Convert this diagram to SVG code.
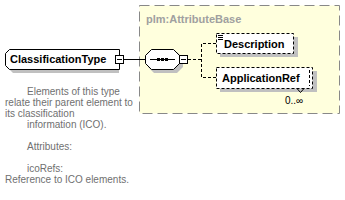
<svg xmlns="http://www.w3.org/2000/svg" width="345" height="200" viewBox="0 0 345 200">
<style>
.lbl{font-family:"Liberation Sans",Arial,sans-serif;font-size:11px;font-weight:bold;fill:#000}
.doc{font-family:"Liberation Sans",Arial,sans-serif;font-size:10px;fill:#707070}
.sh{fill:#c0c0c0;stroke:none}
.box{fill:#fff;stroke:#000;stroke-width:1}
.dbox{fill:#fff;stroke:#000;stroke-width:1;stroke-dasharray:3,2}
.conn{fill:none;stroke:#000;stroke-width:1}
.dconn{fill:none;stroke:#000;stroke-width:1;stroke-dasharray:3,2}
</style>
<rect width="345" height="200" fill="#fff"/>
<g id="group-AttributeBase">
<rect x="139.5" y="5.5" width="200" height="108" fill="#ffffdd" stroke="#888" stroke-dasharray="10,5"/>
<text x="146" y="23" class="lbl" style="fill:#a0a0a0">plm:AttributeBase</text>
</g>
<g id="connectors">
<line class="conn" x1="124" y1="59.5" x2="145" y2="59.5"/>
<polyline class="dconn" points="188,59.5 201.5,59.5"/>
<polyline class="dconn" points="216,43.5 201.5,43.5 201.5,77.5 216,77.5"/>
</g>
<g id="node-ClassificationType">
<path class="sh" d="M13,53 H119 V73 H13 L9,69 V57 Z"/>
<path class="box" d="M9.5,49.5 H119.5 V69.5 H9.5 L5.5,65.5 V53.5 Z"/>
<text x="10" y="63" class="lbl">ClassificationType</text>
<rect class="box" x="115.5" y="55.5" width="8" height="8"/>
<line class="conn" x1="117" y1="59.5" x2="122" y2="59.5"/>
</g>
<g id="node-sequence">
<path class="sh" d="M154,52 H177 L183,58 V67 L177,73 H154 L148,67 V58 Z"/>
<path class="box" d="M151.5,49.5 H173.5 L179.5,55.5 V63.5 L173.5,69.5 H151.5 L145.5,63.5 V55.5 Z"/>
<line class="conn" x1="150" y1="59.5" x2="175" y2="59.5"/>
<rect x="157" y="58" width="3" height="3" fill="#000"/>
<rect x="161" y="58" width="3" height="3" fill="#000"/>
<rect x="165" y="58" width="3" height="3" fill="#000"/>
<rect class="box" x="179.5" y="55.5" width="8" height="8"/>
<line class="conn" x1="181" y1="59.5" x2="186" y2="59.5"/>
</g>
<g id="node-Description">
<rect class="sh" x="220" y="37" width="78" height="20"/>
<rect class="dbox" x="216.5" y="33.5" width="77" height="20"/>
<line class="conn" x1="218" y1="35.5" x2="223" y2="35.5"/>
<line class="conn" x1="218" y1="37.5" x2="223" y2="37.5"/>
<line class="conn" x1="218" y1="39.5" x2="223" y2="39.5"/>
<text x="224" y="48" class="lbl">Description</text>
</g>
<g id="node-ApplicationRef">
<rect class="sh" x="220" y="71" width="97" height="21"/>
<rect class="dbox" x="216.5" y="67.5" width="96" height="21"/>
<line class="dconn" x1="309.5" y1="70" x2="309.5" y2="86"/>
<polyline class="conn" points="297,88.5 300.5,92.5 304,88.5"/>
<text x="222" y="82" class="lbl">ApplicationRef</text>
<text x="285" y="104" font-family="Liberation Sans,Arial,sans-serif" font-size="10" fill="#000">0..∞</text>
</g>
<g id="annotation">
<text class="doc" x="27" y="95">Elements of this type</text>
<text class="doc" x="5" y="106">relate their parent element to</text>
<text class="doc" x="5" y="117">its classification</text>
<text class="doc" x="27" y="128">information (ICO).</text>
<text class="doc" x="27" y="150">Attributes:</text>
<text class="doc" x="27" y="172">icoRefs:</text>
<text class="doc" x="5" y="183">Reference to ICO elements.</text>
</g>
</svg>
